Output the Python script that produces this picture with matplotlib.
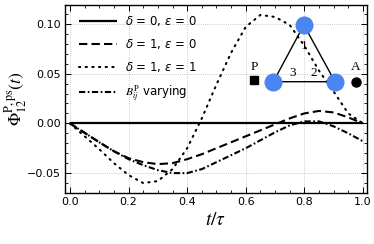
import matplotlib
matplotlib.use("Agg")
import matplotlib.pyplot as plt
from matplotlib.ticker import MultipleLocator

plt.rcParams['mathtext.fontset'] = 'stix'
plt.rcParams['font.family'] = ['DejaVu Sans']

t = [0.0, 0.05, 0.1, 0.15, 0.2, 0.25, 0.3, 0.35, 0.4, 0.45, 0.5,
     0.55, 0.6, 0.65, 0.7, 0.75, 0.8, 0.85, 0.9, 0.95, 1.0]
phi_d0_e0 = [0.0] * 21
phi_d1_e0 = [0.0, -0.0095, -0.019, -0.028, -0.035, -0.039, -0.041, -0.040, -0.036,
             -0.031, -0.025, -0.019, -0.013, -0.007, -0.001, 0.005, 0.010, 0.0125,
             0.011, 0.006, 0.0]
phi_d1_e1 = [0.0, -0.013, -0.026, -0.040, -0.052, -0.060, -0.058, -0.046, -0.025,
             0.005, 0.039, 0.071, 0.097, 0.109, 0.107, 0.099, 0.078, 0.053,
             0.032, 0.010, 0.0]
phi_bvar = [0.0, -0.0095, -0.019, -0.028, -0.036, -0.042, -0.047, -0.050, -0.050,
            -0.046, -0.039, -0.032, -0.025, -0.017, -0.009, -0.002, 0.002, 0.002,
            -0.003, -0.010, -0.018]
labels = [r"$\delta$ = 0, $\epsilon$ = 0", r"$\delta$ = 1, $\epsilon$ = 0",
          r"$\delta$ = 1, $\epsilon$ = 1", r"$B_{ij}^{\mathrm{P}}$ varying"]

W, H = 374, 244
fig = plt.figure(figsize=(W / 100, H / 100), dpi=100)
L, R, T, B = 65, 367, 5, 193
ax = fig.add_axes([L / W, 1 - B / H, (R - L) / W, (B - T) / H])

ax.plot(t, phi_d0_e0, color='black', lw=1.6, solid_capstyle='butt', label=labels[0])
ax.plot(t, phi_d1_e0, color='black', lw=1.5, dashes=(4, 2), label=labels[1])
ax.plot(t, phi_d1_e1, color='black', lw=1.5, dashes=(0.6, 2.6), dash_capstyle='round', label=labels[2])
ax.plot(t, phi_bvar, color='black', lw=1.5, dashes=(3, 1.2, 0.8, 1.2), label=labels[3])

ax.set_xlim(-0.017, 1.014)
ax.set_ylim(-0.070, 0.119)
ax.xaxis.set_major_locator(MultipleLocator(0.2))
ax.xaxis.set_minor_locator(MultipleLocator(0.05))
ax.yaxis.set_major_locator(MultipleLocator(0.05))
ax.yaxis.set_minor_locator(MultipleLocator(0.01))
ax.xaxis.set_major_formatter(matplotlib.ticker.FormatStrFormatter('%.1f'))
ax.yaxis.set_major_formatter(matplotlib.ticker.FuncFormatter(
    lambda v, p: ('%.2f' % v).replace('-', '\u2212')))
ax.tick_params(which='both', direction='in', top=True, right=True, labelsize=8, pad=3)
ax.tick_params(which='major', length=4, width=0.7)
ax.tick_params(which='minor', length=2.2, width=0.6)
for s in ax.spines.values():
    s.set_linewidth(1.0)
ax.grid(True, which='major', color='#bbbbbb', lw=0.6, ls=(0, (1, 1.5)))
ax.set_axisbelow(True)

ax.set_xlabel(r"$t/\tau$", fontsize=14, labelpad=2)
ax.set_ylabel(r"$\Phi_{12}^{\mathrm{P,ps}}(t)$", fontsize=12.5)
ax.yaxis.set_label_coords(-0.118, 0.5)

leg = ax.legend(loc='upper left', frameon=False, fontsize=8.5, handlelength=3.2,
                labelspacing=0.75, handletextpad=0.7,
                bbox_to_anchor=(0.03, 0.975), borderaxespad=0.0)
for i, txt in enumerate(leg.get_texts()):
    txt.set_math_fontfamily('dejavusans' if i < 3 else 'stix')

# inset triangle diagram (axes coords)
tr = ax.transAxes
n1 = (0.791, 0.894)
n3 = (0.690, 0.592)
n2 = (0.894, 0.592)
ax.plot([n1[0], n3[0], n2[0], n1[0]], [n1[1], n3[1], n2[1], n1[1]],
        color='black', lw=1.0, transform=tr, zorder=5)
for n in (n1, n2, n3):
    ax.plot([n[0]], [n[1]], 'o', ms=13, color='#4a86f0', mec='none', transform=tr, zorder=6)
ax.plot([0.626], [0.601], 's', ms=5.5, color='black', transform=tr, zorder=6)
ax.plot([0.964], [0.590], 'o', ms=6.5, color='black', transform=tr, zorder=6)
serif = dict(family='Liberation Serif', fontsize=9.5, ha='center', va='center', transform=tr, zorder=7)
ax.text(0.791, 0.782, '1', **serif)
ax.text(0.755, 0.640, '3', **serif)
ax.text(0.824, 0.640, '2', **serif)
ax.text(0.626, 0.672, 'P', **serif)
ax.text(0.964, 0.672, 'A', **serif)

fig.savefig('out.png', dpi=100)
